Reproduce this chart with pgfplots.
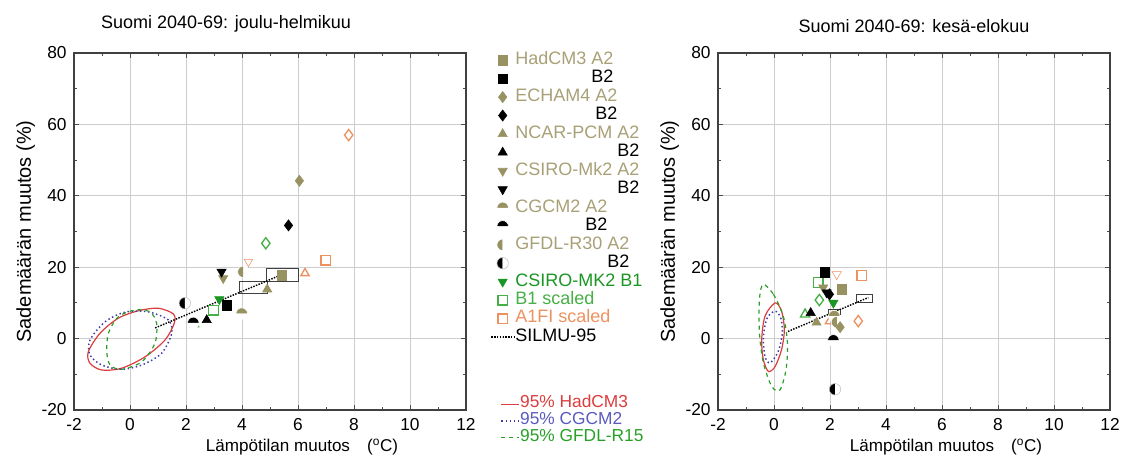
\documentclass[border=0pt]{standalone}
\usepackage{pgfplots}
\pgfplotsset{compat=1.18}
\usepackage{fontspec}
\setmainfont{Liberation Sans}
\usetikzlibrary{plotmarks}

\definecolor{khaki}{RGB}{152,146,98}
\definecolor{khakitext}{RGB}{168,160,118}
\definecolor{mgreen}{RGB}{25,150,35}
\definecolor{lgreen}{RGB}{70,175,70}
\definecolor{orng}{RGB}{236,145,95}
\definecolor{ered}{RGB}{220,60,60}
\definecolor{eblue}{RGB}{60,60,170}
\definecolor{etext}{RGB}{90,90,190}
\definecolor{egreen}{RGB}{40,160,40}
\definecolor{gridgray}{RGB}{205,205,205}

% 1 px of the reference = 0.75pt
\pgfplotsset{
  climplot/.style={
    scale only axis, width=294pt, height=267.75pt,
    xmin=-2, xmax=12, ymin=-20, ymax=80,
    xtick={-2,0,...,12}, xticklabels={-2,0,2,4,6,8,10,12},
    ytick={-20,0,...,80}, yticklabels={-20,0,20,40,60,80},
    minor x tick num=1, minor y tick num=1,
    grid=major, grid style={gridgray, line width=0.6pt},
    tick align=inside, major tick length=4pt, minor tick length=2.5pt,
    tick style={black!70, line width=0.6pt},
    axis line style={black!75, line width=1pt},
    tick label style={font=\fontsize{13}{15}\selectfont},
    xticklabel style={yshift=-3pt},
    yticklabel style={xshift=-2pt},
    title style={font=\fontsize{13.5}{16}\selectfont, yshift=6pt},
    xlabel={Lämpötilan muutos\hspace{1em}(\textsuperscript{o}C)},
    ylabel={Sademäärän muutos (\%)},
    xlabel style={font=\fontsize{12.8}{15}\selectfont, yshift=1pt, xshift=24pt},
    ylabel style={font=\fontsize{15}{17}\selectfont, yshift=-2pt},
    clip=false,
  },
  mk/.style={only marks, mark size=3.6pt},
  opengreen/.style={only marks, color=lgreen, mark options={draw=lgreen, line width=1pt}},
  openorange/.style={only marks, color=orng, mark options={draw=orng, line width=1pt}},
  boxst/.style={black!75, line width=0.8pt, forget plot},
  silmu/.style={black, line width=1.1pt, densely dotted},
  shortline/.style={legend image code/.code={\draw[##1] (0pt,0pt) -- (13pt,0pt);}},
}

\begin{document}
\begin{tikzpicture}
\useasboundingbox (-55.5pt,-45pt) rectangle (787.5pt,307.5pt);

%% ---------------- winter ----------------
\begin{axis}[climplot,
  title={Suomi 2040-69: joulu-helmikuu},
  title style={xshift=-33pt},
  legend style={at={(1.062,1.006)}, anchor=north west, draw=none, fill=none,
    inner sep=0pt, row sep=0.35pt,
    nodes={inner sep=0.5pt, text height=9.5pt, text depth=3pt},
    font=\fontsize{13.5}{15}\selectfont},
  legend cell align=left,
]
% 95% ellipses
\addplot[ered, line width=0.9pt, smooth cycle, forget plot] coordinates {
  (-1.49,-3.7)(-1.07,1.5)(-0.42,5.7)(0.30,7.8)(1.01,8.5)(1.55,6.9)
  (1.58,4.3)(1.25,-0.4)(0.54,-5.1)(-0.30,-8.3)(-1.01,-8.8)(-1.43,-6.9)};
\addplot[eblue, line width=1.1pt, dotted, smooth cycle, forget plot] coordinates {
  (-1.43,-0.4)(-0.89,4.7)(-0.18,7.4)(0.65,7.5)(1.37,5.2)(1.49,1.5)
  (1.13,-4.1)(0.42,-7.4)(-0.30,-8.6)(-1.01,-7.4)(-1.43,-4.6)};
\addplot[egreen, line width=0.9pt, dashed, smooth cycle, forget plot] coordinates {
  (-0.83,-3.7)(-0.77,1.5)(-0.42,6.1)(0.18,8.0)(0.71,7.5)(0.95,4.3)
  (0.89,-1.3)(0.42,-6.5)(-0.30,-8.6)(-0.71,-7.4)};
% SILMU-95 boxes
\addplot[boxst] coordinates {(3.90,12.7)(4.90,12.7)(4.90,15.9)(3.90,15.9)(3.90,12.7)};
\addplot[boxst] coordinates {(4.88,15.9)(6.01,15.9)(6.01,19.7)(4.88,19.7)(4.88,15.9)};
% scaled, other shapes
\addplot[opengreen, mark=triangle, mark size=3.6pt, forget plot] coordinates {(2.30,4.0)};
\addplot[opengreen, mark=diamond, mark size=4.2pt, forget plot] coordinates {(4.85,26.7)};
\addplot[openorange, mark=diamond, mark size=4.2pt, forget plot] coordinates {(7.81,57.0)};
\addplot[openorange, mark=triangle, mark size=3.6pt, forget plot] coordinates {(6.25,18.3)};
\addplot[openorange, mark=triangle, mark size=3.6pt, mark options={rotate=180}, forget plot] coordinates {(4.23,21.5)};

\addplot[mk, khaki, mark=square*] coordinates {(5.42,17.8)};
\addlegendentry{\textcolor{khakitext}{HadCM3 A2}}
\addplot[mk, black, mark=square*] coordinates {(3.45,9.4)};
\addlegendentry{\phantom{HadCM3 }B2}
\addplot[mk, khaki, mark=diamond*, mark size=4.2pt] coordinates {(6.05,44.2)};
\addlegendentry{\textcolor{khakitext}{ECHAM4 A2}}
\addplot[mk, black, mark=diamond*, mark size=4.2pt] coordinates {(5.66,31.7)};
\addlegendentry{\phantom{ECHAM4 }B2}
\addplot[mk, khaki, mark=triangle*, mark size=4pt] coordinates {(4.90,13.8)};
\addlegendentry{\textcolor{khakitext}{NCAR-PCM A2}}
\addplot[mk, black, mark=triangle*, mark size=4pt] coordinates {(2.74,5.2)};
\addlegendentry{\phantom{NCAR-PCM }B2}
\addplot[mk, khaki, mark=triangle*, mark size=4pt, mark options={rotate=180}] coordinates {(3.33,16.9)};
\addlegendentry{\textcolor{khakitext}{CSIRO-Mk2 A2}}
\addplot[mk, black, mark=triangle*, mark size=4pt, mark options={rotate=180}] coordinates {(3.27,18.7)};
\addlegendentry{\phantom{CSIRO-Mk2 }B2}
\addplot[mk, khaki, mark=halfcircle*, mark size=4.3pt, mark options={draw=white}] coordinates {(3.99,7.0)};
\addlegendentry{\textcolor{khakitext}{CGCM2 A2}}
\addplot[mk, black, mark=halfcircle*, mark size=4.3pt, mark options={draw=white}] coordinates {(2.26,4.4)};
\addlegendentry{\phantom{CGCM2 }B2}
\addplot[mk, khaki, mark=halfcircle*, mark size=4.3pt, mark options={rotate=90, draw=white}] coordinates {(4.05,18.7)};
\addlegendentry{\textcolor{khakitext}{GFDL-R30 A2}}
\addplot[mk, black, mark=halfcircle*, mark size=4.3pt, mark options={rotate=90, draw=black!25}] coordinates {(1.96,9.9)};
\addlegendentry{\phantom{GFDL-R30 }B2}
\addplot[mk, mgreen, mark=triangle*, mark size=4pt, mark options={rotate=180}] coordinates {(3.19,11.0)};
\addlegendentry{\textcolor{mgreen}{CSIRO-MK2 B1}}
\addplot[opengreen, mark=square, mark size=3.6pt] coordinates {(2.98,8.0)};
\addlegendentry{\textcolor{lgreen}{B1 scaled}}
\addplot[openorange, mark=square, mark size=3.6pt] coordinates {(6.99,22.0)};
\addlegendentry{\textcolor{orng}{A1FI scaled}}
\addplot[silmu] coordinates {(0.90,3.0)(5.60,18.5)};
\addlegendentry{SILMU-95}
\end{axis}

%% ---------------- summer ----------------
\begin{axis}[climplot, xshift=483pt,
  title={Suomi 2040-69: kesä-elokuu},
  legend style={at={(-0.555,0.040)}, anchor=north west, draw=none, fill=none,
    inner sep=0pt, row sep=0pt,
    nodes={inner sep=0.5pt, text height=8.5pt, text depth=3pt},
    font=\fontsize{13}{15}\selectfont},
  legend cell align=left,
]
\addplot[ered, line width=0.9pt, smooth cycle, shortline] coordinates {
  (0.04,10.0)(0.27,7.7)(0.37,2.5)(0.27,-3.1)(0.04,-7.8)(-0.20,-9.2)
  (-0.38,-5.9)(-0.44,-0.3)(-0.32,6.3)};
\addlegendentry{\textcolor{ered}{95\% HadCM3}}
\addplot[eblue, line width=1.1pt, dotted, smooth cycle, shortline] coordinates {
  (0.04,7.7)(0.24,5.8)(0.30,1.6)(0.15,-3.6)(-0.14,-6.8)(-0.32,-5.0)
  (-0.38,0.6)(-0.24,5.8)};
\addlegendentry{\textcolor{etext}{95\% CGCM2}}
\addplot[egreen, line width=0.9pt, dashed, smooth cycle, shortline] coordinates {
  (-0.39,15.2)(-0.02,12.4)(0.33,6.3)(0.48,-1.2)(0.43,-8.7)(0.21,-14.4)
  (-0.08,-13.4)(-0.38,-6.8)(-0.52,1.6)(-0.52,11.0)};
\addlegendentry{\textcolor{egreen}{95\% GFDL-R15}}
% SILMU-95
\addplot[boxst] coordinates {(1.94,6.8)(2.38,6.8)(2.38,8.2)(1.94,8.2)(1.94,6.8)};
\addplot[boxst] coordinates {(2.93,10.0)(3.52,10.0)(3.52,12.4)(2.93,12.4)(2.93,10.0)};
\addplot[silmu, forget plot] coordinates {(0.50,2.0)(3.37,11.5)};
% B1 scaled and A1FI scaled
\addplot[opengreen, mark=square, mark size=3.6pt, forget plot] coordinates {(1.58,15.7)};
\addplot[opengreen, mark=diamond, mark size=4.2pt, forget plot] coordinates {(1.62,10.8)};
\addplot[opengreen, mark=triangle, mark size=4pt, forget plot] coordinates {(1.11,6.8)};
\addplot[openorange, mark=square, mark size=3.6pt, forget plot] coordinates {(3.13,17.7)};
\addplot[openorange, mark=triangle, mark size=4pt, mark options={rotate=180}, forget plot] coordinates {(2.24,18.0)};
\addplot[openorange, mark=triangle, mark size=4pt, forget plot] coordinates {(2.00,4.9)};
\addplot[openorange, mark=diamond, mark size=4.2pt, forget plot] coordinates {(3.01,4.9)};
% models
\addplot[mk, khaki, mark=square*, forget plot] coordinates {(2.42,13.8)};
\addplot[mk, khaki, mark=triangle*, mark size=4pt, mark options={rotate=180}, forget plot] coordinates {(1.76,14.3)};
\addplot[mk, black, mark=square*, forget plot] coordinates {(1.82,18.5)};
\addplot[mk, black, mark=triangle*, mark size=4pt, mark options={rotate=180}, forget plot] coordinates {(1.88,12.9)};
\addplot[mk, black, mark=diamond*, mark size=4.2pt, forget plot] coordinates {(1.98,12.4)};
\addplot[mk, mgreen, mark=triangle*, mark size=4pt, mark options={rotate=180}, forget plot] coordinates {(2.12,10.0)};
\addplot[mk, khaki, mark=halfcircle*, mark size=4.3pt, mark options={draw=white}, forget plot] coordinates {(2.15,6.3)};
\addplot[mk, khaki, mark=triangle*, mark size=4pt, forget plot] coordinates {(1.52,4.5)};
\addplot[mk, black, mark=triangle*, mark size=4pt, forget plot] coordinates {(1.31,7.2)};
\addplot[mk, khaki, mark=halfcircle*, mark size=4.3pt, mark options={rotate=90, draw=white}, forget plot] coordinates {(2.25,4.6)};
\addplot[mk, khaki, mark=diamond*, mark size=4.2pt, forget plot] coordinates {(2.36,3.2)};
\addplot[mk, black, mark=halfcircle*, mark size=4.3pt, mark options={draw=white}, forget plot] coordinates {(2.12,-0.5)};
\addplot[mk, black, mark=halfcircle*, mark size=4.3pt, mark options={rotate=90, draw=black!25}, forget plot] coordinates {(2.18,-14.2)};
\end{axis}
\end{tikzpicture}
\end{document}
